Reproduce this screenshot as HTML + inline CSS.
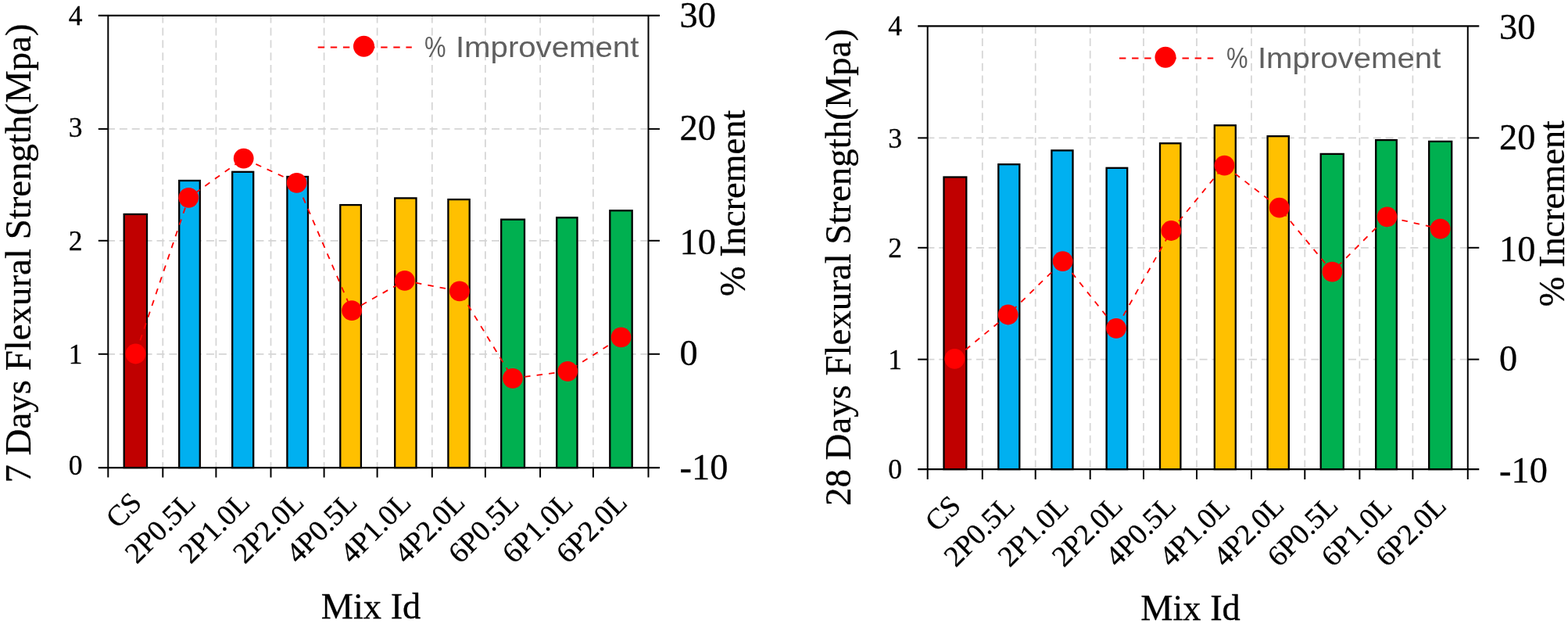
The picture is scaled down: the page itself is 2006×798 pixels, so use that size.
<!DOCTYPE html>
<html lang="en">
<head>
<meta charset="utf-8">
<title>Flexural Strength Charts</title>
<style>
html,body{margin:0;padding:0;background:#ffffff;}
body{width:2006px;height:798px;overflow:hidden;}
svg{display:block;}
text{white-space:pre;}
</style>
</head>
<body>
<svg width="2006" height="798" viewBox="0 0 2006 798" role="img" aria-label="Flexural strength and percent improvement charts for 7 and 28 days">
<rect x="0" y="0" width="2006" height="798" fill="#ffffff"/>
<g>
<g stroke="#D5D5D5" stroke-width="1.7" stroke-dasharray="10 5.87" stroke-dashoffset="0.5" fill="none">
<line x1="208.3" y1="20.1" x2="208.3" y2="597.1"/>
<line x1="276.4" y1="20.1" x2="276.4" y2="597.1"/>
<line x1="346.5" y1="20.1" x2="346.5" y2="597.1"/>
<line x1="414.6" y1="20.1" x2="414.6" y2="597.1"/>
<line x1="482.6" y1="20.1" x2="482.6" y2="597.1"/>
<line x1="552.8" y1="20.1" x2="552.8" y2="597.1"/>
<line x1="620.9" y1="20.1" x2="620.9" y2="597.1"/>
<line x1="691.1" y1="20.1" x2="691.1" y2="597.1"/>
<line x1="758.9" y1="20.1" x2="758.9" y2="597.1"/>
<line x1="137.5" y1="164.9" x2="828.5" y2="164.9"/>
<line x1="137.5" y1="307.8" x2="828.5" y2="307.8"/>
<line x1="137.5" y1="452.8" x2="828.5" y2="452.8"/>
</g>
<g stroke="#000000" stroke-width="2.3">
<rect x="158.7" y="274.0" width="29.3" height="324.1" fill="#C00000"/>
<rect x="229.2" y="231.0" width="26.6" height="367.1" fill="#00B0F0"/>
<rect x="297.2" y="219.8" width="27.0" height="378.3" fill="#00B0F0"/>
<rect x="367.4" y="226.0" width="26.6" height="372.1" fill="#00B0F0"/>
<rect x="435.3" y="262.1" width="26.6" height="336.0" fill="#FFC000"/>
<rect x="505.2" y="253.4" width="27.3" height="344.7" fill="#FFC000"/>
<rect x="573.4" y="255.1" width="27.3" height="343.0" fill="#FFC000"/>
<rect x="641.2" y="280.7" width="29.8" height="317.4" fill="#00B050"/>
<rect x="712.2" y="278.3" width="26.3" height="319.8" fill="#00B050"/>
<rect x="780.3" y="269.3" width="28.4" height="328.8" fill="#00B050"/>
</g>
<g stroke="#000000" fill="none">
<line x1="125.8" y1="19.9" x2="844.0" y2="19.9" stroke-width="2.4"/>
<line x1="125.8" y1="598.1" x2="844.0" y2="598.1" stroke-width="2.2"/>
<line x1="138.3" y1="19.9" x2="138.3" y2="610.6" stroke-width="2"/>
<line x1="829.5" y1="19.9" x2="829.5" y2="610.6" stroke-width="2"/>
<line x1="208.3" y1="598.1" x2="208.3" y2="610.6" stroke-width="2"/>
<line x1="276.4" y1="598.1" x2="276.4" y2="610.6" stroke-width="2"/>
<line x1="346.5" y1="598.1" x2="346.5" y2="610.6" stroke-width="2"/>
<line x1="414.6" y1="598.1" x2="414.6" y2="610.6" stroke-width="2"/>
<line x1="482.6" y1="598.1" x2="482.6" y2="610.6" stroke-width="2"/>
<line x1="552.8" y1="598.1" x2="552.8" y2="610.6" stroke-width="2"/>
<line x1="620.9" y1="598.1" x2="620.9" y2="610.6" stroke-width="2"/>
<line x1="691.1" y1="598.1" x2="691.1" y2="610.6" stroke-width="2"/>
<line x1="758.9" y1="598.1" x2="758.9" y2="610.6" stroke-width="2"/>
<line x1="125.8" y1="164.9" x2="138.3" y2="164.9" stroke-width="2"/>
<line x1="829.5" y1="164.9" x2="844.0" y2="164.9" stroke-width="2"/>
<line x1="125.8" y1="307.8" x2="138.3" y2="307.8" stroke-width="2"/>
<line x1="829.5" y1="307.8" x2="844.0" y2="307.8" stroke-width="2"/>
<line x1="125.8" y1="452.8" x2="138.3" y2="452.8" stroke-width="2"/>
<line x1="829.5" y1="452.8" x2="844.0" y2="452.8" stroke-width="2"/>
</g>
<polyline points="173.5,452.5 241.3,252.9 311.7,202.6 379.6,233.8 450.1,397.2 517.8,358.9 587.9,372.4 656.0,483.8 726.3,474.8 794.6,431.4" fill="none" stroke="#FF0000" stroke-width="1.8" stroke-dasharray="7.5 8.1" stroke-dashoffset="13"/>
<g fill="#FF0000">
<circle cx="173.5" cy="452.5" r="12.9"/>
<circle cx="241.3" cy="252.9" r="12.9"/>
<circle cx="311.7" cy="202.6" r="12.9"/>
<circle cx="379.6" cy="233.8" r="12.9"/>
<circle cx="450.1" cy="397.2" r="12.9"/>
<circle cx="517.8" cy="358.9" r="12.9"/>
<circle cx="587.9" cy="372.4" r="12.9"/>
<circle cx="656.0" cy="483.8" r="12.9"/>
<circle cx="726.3" cy="474.8" r="12.9"/>
<circle cx="794.6" cy="431.4" r="12.9"/>
</g>
<line x1="406.7" y1="60.4" x2="526.8" y2="60.4" stroke="#FF0000" stroke-width="2" stroke-dasharray="8.4 7.7"/>
<circle cx="465.5" cy="59.3" r="13.5" fill="#FF0000"/>
<text x="542.5" y="73.1" font-family='"Liberation Sans", sans-serif' font-size="37.6" fill="#606060"><tspan x="543.0" textLength="27.5" lengthAdjust="spacingAndGlyphs">%</tspan> <tspan x="582.9" textLength="234.5" lengthAdjust="spacingAndGlyphs">Improvement</tspan></text>
<g font-family='"Liberation Serif", serif' fill="#000000" stroke="#000000" stroke-width="0.3" stroke-linejoin="round">
<text x="105.6" y="31.7" font-size="35.5" text-anchor="end">4</text>
<text x="105.6" y="174.5" font-size="35.5" text-anchor="end">3</text>
<text x="105.6" y="320.0" font-size="35.5" text-anchor="end">2</text>
<text x="105.6" y="464.5" font-size="35.5" text-anchor="end">1</text>
<text x="105.6" y="607.4" font-size="35.5" text-anchor="end">0</text>
<text x="869.5" y="34.5" font-size="46.4" text-anchor="start">30</text>
<text x="869.5" y="179.3" font-size="46.4" text-anchor="start">20</text>
<text x="869.5" y="324.5" font-size="46.4" text-anchor="start">10</text>
<text x="869.5" y="467.3" font-size="46.4" text-anchor="start">0</text>
<text x="869.5" y="612.8" font-size="46.4" text-anchor="start">-10</text>
<text transform="translate(183.3,644.9) rotate(-45)" font-size="37.5" text-anchor="end">CS</text>
<text transform="translate(252.3,644.9) rotate(-45)" font-size="37.5" text-anchor="end">2P0.5L</text>
<text transform="translate(321.4,644.9) rotate(-45)" font-size="37.5" text-anchor="end">2P1.0L</text>
<text transform="translate(390.6,644.9) rotate(-45)" font-size="37.5" text-anchor="end">2P2.0L</text>
<text transform="translate(458.6,644.9) rotate(-45)" font-size="37.5" text-anchor="end">4P0.5L</text>
<text transform="translate(527.7,644.9) rotate(-45)" font-size="37.5" text-anchor="end">4P1.0L</text>
<text transform="translate(596.8,644.9) rotate(-45)" font-size="37.5" text-anchor="end">4P2.0L</text>
<text transform="translate(666.0,644.9) rotate(-45)" font-size="37.5" text-anchor="end">6P0.5L</text>
<text transform="translate(735.0,644.9) rotate(-45)" font-size="37.5" text-anchor="end">6P1.0L</text>
<text transform="translate(804.2,644.9) rotate(-45)" font-size="37.5" text-anchor="end">6P2.0L</text>
<text transform="translate(39.4,617.6) rotate(-90)" font-size="46.9" text-anchor="start">7 Days Flexural Strength(Mpa)</text>
<text transform="translate(952.6,379.0) rotate(-90)" font-size="46.4" text-anchor="start">% Increment</text>
<text x="474.5" y="791.4" font-size="46.4" text-anchor="middle">Mix Id</text>
</g>
</g>
<g>
<g stroke="#D5D5D5" stroke-width="1.7" stroke-dasharray="10 5.87" stroke-dashoffset="0.5" fill="none">
<line x1="1256.8" y1="33.6" x2="1256.8" y2="599.1"/>
<line x1="1324.7" y1="33.6" x2="1324.7" y2="599.1"/>
<line x1="1394.7" y1="33.6" x2="1394.7" y2="599.1"/>
<line x1="1463.0" y1="33.6" x2="1463.0" y2="599.1"/>
<line x1="1531.0" y1="33.6" x2="1531.0" y2="599.1"/>
<line x1="1601.0" y1="33.6" x2="1601.0" y2="599.1"/>
<line x1="1669.3" y1="33.6" x2="1669.3" y2="599.1"/>
<line x1="1739.4" y1="33.6" x2="1739.4" y2="599.1"/>
<line x1="1807.4" y1="33.6" x2="1807.4" y2="599.1"/>
<line x1="1185.9" y1="176.4" x2="1876.8" y2="176.4"/>
<line x1="1185.9" y1="316.8" x2="1876.8" y2="316.8"/>
<line x1="1185.9" y1="459.6" x2="1876.8" y2="459.6"/>
</g>
<g stroke="#000000" stroke-width="2.3">
<rect x="1207.5" y="226.5" width="28.8" height="373.6" fill="#C00000"/>
<rect x="1277.3" y="210.2" width="27.0" height="389.9" fill="#00B0F0"/>
<rect x="1345.4" y="192.4" width="27.1" height="407.7" fill="#00B0F0"/>
<rect x="1415.6" y="214.8" width="26.6" height="385.3" fill="#00B0F0"/>
<rect x="1484.0" y="183.3" width="26.4" height="416.8" fill="#FFC000"/>
<rect x="1553.8" y="160.3" width="27.0" height="439.8" fill="#FFC000"/>
<rect x="1621.6" y="174.2" width="27.2" height="425.9" fill="#FFC000"/>
<rect x="1689.7" y="196.9" width="29.1" height="403.2" fill="#00B050"/>
<rect x="1760.2" y="179.1" width="26.6" height="421.0" fill="#00B050"/>
<rect x="1828.2" y="180.9" width="29.0" height="419.2" fill="#00B050"/>
</g>
<g stroke="#000000" fill="none">
<line x1="1174.2" y1="33.4" x2="1892.3" y2="33.4" stroke-width="2.4"/>
<line x1="1174.2" y1="600.1" x2="1892.3" y2="600.1" stroke-width="2.2"/>
<line x1="1186.7" y1="33.4" x2="1186.7" y2="613.1" stroke-width="2"/>
<line x1="1877.8" y1="33.4" x2="1877.8" y2="613.1" stroke-width="2"/>
<line x1="1256.8" y1="600.1" x2="1256.8" y2="613.1" stroke-width="2"/>
<line x1="1324.7" y1="600.1" x2="1324.7" y2="613.1" stroke-width="2"/>
<line x1="1394.7" y1="600.1" x2="1394.7" y2="613.1" stroke-width="2"/>
<line x1="1463.0" y1="600.1" x2="1463.0" y2="613.1" stroke-width="2"/>
<line x1="1531.0" y1="600.1" x2="1531.0" y2="613.1" stroke-width="2"/>
<line x1="1601.0" y1="600.1" x2="1601.0" y2="613.1" stroke-width="2"/>
<line x1="1669.3" y1="600.1" x2="1669.3" y2="613.1" stroke-width="2"/>
<line x1="1739.4" y1="600.1" x2="1739.4" y2="613.1" stroke-width="2"/>
<line x1="1807.4" y1="600.1" x2="1807.4" y2="613.1" stroke-width="2"/>
<line x1="1174.2" y1="176.4" x2="1186.7" y2="176.4" stroke-width="2"/>
<line x1="1877.8" y1="176.4" x2="1892.3" y2="176.4" stroke-width="2"/>
<line x1="1174.2" y1="316.8" x2="1186.7" y2="316.8" stroke-width="2"/>
<line x1="1877.8" y1="316.8" x2="1892.3" y2="316.8" stroke-width="2"/>
<line x1="1174.2" y1="459.6" x2="1186.7" y2="459.6" stroke-width="2"/>
<line x1="1877.8" y1="459.6" x2="1892.3" y2="459.6" stroke-width="2"/>
</g>
<polyline points="1221.3,458.8 1289.7,402.5 1359.6,334.1 1428.0,419.8 1498.3,295.0 1566.5,211.6 1636.7,265.7 1704.4,347.6 1774.6,277.3 1842.7,292.7" fill="none" stroke="#FF0000" stroke-width="1.8" stroke-dasharray="7.5 8.1" stroke-dashoffset="13"/>
<g fill="#FF0000">
<circle cx="1221.3" cy="458.8" r="12.9"/>
<circle cx="1289.7" cy="402.5" r="12.9"/>
<circle cx="1359.6" cy="334.1" r="12.9"/>
<circle cx="1428.0" cy="419.8" r="12.9"/>
<circle cx="1498.3" cy="295.0" r="12.9"/>
<circle cx="1566.5" cy="211.6" r="12.9"/>
<circle cx="1636.7" cy="265.7" r="12.9"/>
<circle cx="1704.4" cy="347.6" r="12.9"/>
<circle cx="1774.6" cy="277.3" r="12.9"/>
<circle cx="1842.7" cy="292.7" r="12.9"/>
</g>
<line x1="1432.0" y1="74.4" x2="1552.2" y2="74.4" stroke="#FF0000" stroke-width="2" stroke-dasharray="8.4 7.7"/>
<circle cx="1491.0" cy="73.3" r="13.5" fill="#FF0000"/>
<text x="1568.5" y="87.1" font-family='"Liberation Sans", sans-serif' font-size="37.6" fill="#606060"><tspan x="1569.0" textLength="27.5" lengthAdjust="spacingAndGlyphs">%</tspan> <tspan x="1608.9" textLength="234.5" lengthAdjust="spacingAndGlyphs">Improvement</tspan></text>
<g font-family='"Liberation Serif", serif' fill="#000000" stroke="#000000" stroke-width="0.3" stroke-linejoin="round">
<text x="1154.1" y="45.3" font-size="35.5" text-anchor="end">4</text>
<text x="1154.1" y="188.5" font-size="35.5" text-anchor="end">3</text>
<text x="1154.1" y="328.8" font-size="35.5" text-anchor="end">2</text>
<text x="1154.1" y="471.8" font-size="35.5" text-anchor="end">1</text>
<text x="1154.1" y="612.4" font-size="35.5" text-anchor="end">0</text>
<text x="1918.0" y="49.8" font-size="46.4" text-anchor="start">30</text>
<text x="1918.0" y="190.8" font-size="46.4" text-anchor="start">20</text>
<text x="1918.0" y="333.5" font-size="46.4" text-anchor="start">10</text>
<text x="1918.0" y="474.3" font-size="46.4" text-anchor="start">0</text>
<text x="1918.0" y="617.1" font-size="46.4" text-anchor="start">-10</text>
<text transform="translate(1231.2,649.1) rotate(-45)" font-size="37.5" text-anchor="end">CS</text>
<text transform="translate(1300.2,649.1) rotate(-45)" font-size="37.5" text-anchor="end">2P0.5L</text>
<text transform="translate(1369.2,649.1) rotate(-45)" font-size="37.5" text-anchor="end">2P1.0L</text>
<text transform="translate(1438.3,649.1) rotate(-45)" font-size="37.5" text-anchor="end">2P2.0L</text>
<text transform="translate(1506.5,649.1) rotate(-45)" font-size="37.5" text-anchor="end">4P0.5L</text>
<text transform="translate(1575.5,649.1) rotate(-45)" font-size="37.5" text-anchor="end">4P1.0L</text>
<text transform="translate(1644.7,649.1) rotate(-45)" font-size="37.5" text-anchor="end">4P2.0L</text>
<text transform="translate(1713.8,649.1) rotate(-45)" font-size="37.5" text-anchor="end">6P0.5L</text>
<text transform="translate(1782.9,649.1) rotate(-45)" font-size="37.5" text-anchor="end">6P1.0L</text>
<text transform="translate(1852.1,649.1) rotate(-45)" font-size="37.5" text-anchor="end">6P2.0L</text>
<text transform="translate(1087.7,647.0) rotate(-90)" font-size="46.85" text-anchor="start">28 Days Flexural Strength(Mpa)</text>
<text transform="translate(2001.0,392.3) rotate(-90)" font-size="46.4" text-anchor="start">% Increment</text>
<text x="1523.0" y="793.4" font-size="46.4" text-anchor="middle">Mix Id</text>
</g>
</g>
</svg>
</body>
</html>
